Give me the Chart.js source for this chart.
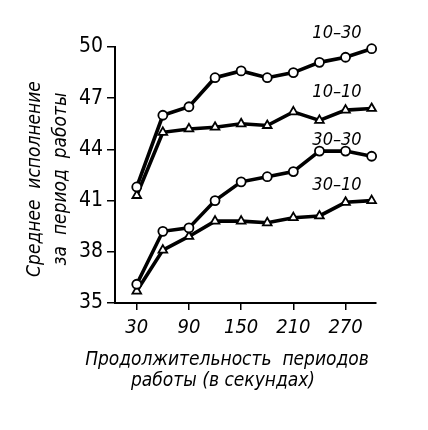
<!DOCTYPE html>
<html>
<head>
<meta charset="utf-8">
<script src="https://cdn.jsdelivr.net/npm/chart.js@4.4.1/dist/chart.umd.min.js"></script>
<style>
  html, body { margin: 0; padding: 0; background: #fff; }
  #wrap { width: 428px; height: 430px; position: relative; }
</style>
</head>
<body>
<div id="wrap"><canvas id="chart"></canvas></div>
<script>
// durations of work periods, seconds
const seconds = [30, 60, 90, 120, 150, 180, 210, 240, 270, 300];
const xTicks = [30, 90, 150, 210, 270];
const yTicks = [35, 38, 41, 44, 47, 50];

const s10_30 = [41.8, 46.0, 46.5, 48.2, 48.6, 48.2, 48.5, 49.1, 49.4, 49.9];
const s10_10 = [41.3, 45.0, 45.2, 45.3, 45.5, 45.4, 46.2, 45.7, 46.3, 46.4];
const s30_30 = [36.1, 39.2, 39.4, 41.0, 42.1, 42.4, 42.7, 43.9, 43.9, 43.6];
const s30_10 = [35.7, 38.1, 38.9, 39.8, 39.8, 39.7, 40.0, 40.1, 40.9, 41.0];

const seriesNames = ['10–30', '10–10', '30–30', '30–10'];
const xTitle = ['Продолжительность  периодов', 'работы (в секундах)'];
const yTitle = ['Среднее  исполнение', 'за  период  работы'];

const FONT = '"Liberation Sans Narrow", "DejaVu Sans Condensed", "Liberation Sans", sans-serif';

function pts(values) {
    return values.map((v, i) => ({ x: seconds[i], y: v }));
}

function series(label, values, shape) {
    return {
        label: label,
        data: pts(values),
        borderColor: '#000',
        borderWidth: 3.6,
        pointStyle: shape,
        pointRadius: shape === 'triangle' ? 5 : 4.5,
        pointBackgroundColor: '#fff',
        pointBorderColor: '#000',
        pointBorderWidth: 1.8,
        tension: 0,
        fill: false,
        clip: false
    };
}

// axis titles and curve labels
const textPlugin = {
    id: 'texts',
    afterDraw(chart) {
        const ctx = chart.ctx;
        ctx.save();
        ctx.fillStyle = '#000';
        ctx.textBaseline = 'alphabetic';
        ctx.textAlign = 'center';
        ctx.font = 'italic 19px ' + FONT;
        ctx.fillText(xTitle[0], 227, 365);
        ctx.fillText(xTitle[1], 223, 386);

        const yMid = (chart.chartArea.top + chart.chartArea.bottom) / 2 + 4;
        [40, 66].forEach((x, i) => {
            ctx.save();
            ctx.translate(x, yMid);
            ctx.rotate(-Math.PI / 2);
            ctx.fillText(yTitle[i], 0, 0);
            ctx.restore();
        });

        ctx.textAlign = 'right';
        ctx.font = 'italic 18px ' + FONT;
        chart.data.datasets.forEach((ds, i) => {
            const meta = chart.getDatasetMeta(i);
            const last = meta.data[meta.data.length - 1];
            ctx.fillText(ds.label, last.x - 10, last.y - 11);
        });
        ctx.restore();
    }
};

const chart = new Chart(document.getElementById('chart'), {
    type: 'line',
    data: {
        datasets: [
            series(seriesNames[0], s10_30, 'circle'),
            series(seriesNames[1], s10_10, 'triangle'),
            series(seriesNames[2], s30_30, 'circle'),
            series(seriesNames[3], s30_10, 'triangle')
        ]
    },
    options: {
        responsive: true,
        maintainAspectRatio: false,
        animation: false,
        layout: { padding: { top: 47, right: 52, left: 0, bottom: 0 } },
        plugins: {
            legend: { display: false },
            tooltip: { enabled: false }
        },
        scales: {
            x: {
                type: 'linear',
                min: 5,
                max: 305,
                afterBuildTicks: (scale) => {
                    scale.ticks = xTicks.map(v => ({ value: v }));
                },
                afterFit: (scale) => { scale.height = 127; },
                grid: {
                    drawOnChartArea: false,
                    drawTicks: true,
                    tickLength: 7,
                    color: '#000',
                    lineWidth: 1.5
                },
                border: { display: true, color: '#000', width: 2 },
                ticks: {
                    color: '#000',
                    padding: 6,
                    maxRotation: 0,
                    autoSkip: false,
                    font: { family: FONT, size: 20, style: 'italic' }
                }
            },
            y: {
                min: 35,
                max: 50,
                afterBuildTicks: (scale) => {
                    scale.ticks = yTicks.map(v => ({ value: v }));
                },
                afterFit: (scale) => { scale.width = 115; },
                grid: {
                    drawOnChartArea: false,
                    drawTicks: true,
                    tickLength: 8,
                    color: '#000',
                    lineWidth: 1.5
                },
                border: { display: true, color: '#000', width: 2 },
                ticks: {
                    color: '#000',
                    padding: 4,
                    font: { family: FONT, size: 21 }
                }
            }
        }
    },
    plugins: [textPlugin]
});
</script>
</body>
</html>
